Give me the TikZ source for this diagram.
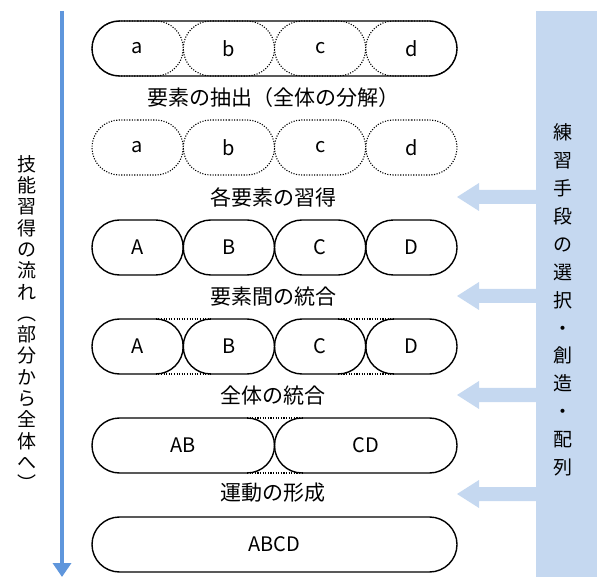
\documentclass[tikz,border=0pt]{standalone}
\usepackage{fontspec}
\newfontfamily\jp{Noto Sans CJK JP}
\usepackage{tikz}
\usetikzlibrary{arrows.meta,calc,shapes.misc}
\definecolor{flowblue}{RGB}{95,150,220}
\definecolor{panelblue}{RGB}{197,216,240}
\tikzset{
  capsule/.style={rounded rectangle, draw, line width=1.4pt, minimum height=55pt, minimum width=91.25pt, inner sep=0pt, outer sep=0pt, font=\jp\fontsize{20}{20}\selectfont},
  part/.style={capsule, line width=1.1pt, dash pattern=on 1.1pt off 1.5pt},
  bridge/.style={line width=1.1pt, dash pattern=on 1.1pt off 1.5pt},
  stage/.style={font=\jp\fontsize{21}{21}\selectfont, inner sep=0pt},
  flowline/.style={draw=flowblue, line width=3.5pt, -{Triangle[width=18pt,length=14pt]}},
}

\begin{document}
\begin{tikzpicture}[x=1pt,y=-1pt]
\useasboundingbox (0,0) rectangle (600,577);
\pgfmathsetmacro{\S}{18.1}   
% 要素の抽出
\node[capsule, minimum width=365pt] (whole1) at (274.5,48.5) {};
\node[part] (a1) at (137.6,48.5) {a};
\node[part] (b1) at (228.9,48.5) {b};
\node[part] (c1) at (320.1,48.5) {c};
\node[part] (d1) at (411.4,48.5) {d};
\node[stage] (l1) at (273,98) {要素の抽出（全体の分解）};
% 各要素の習得
\node[part] (a2) at (137.6,147.5) {a};
\node[part] (b2) at (228.9,147.5) {b};
\node[part] (c2) at (320.1,147.5) {c};
\node[part] (d2) at (411.4,147.5) {d};
\node[stage] (l2) at (273,197) {各要素の習得};
% 要素間の統合
\node[capsule] (A3) at (137.6,247.5) {A};
\node[capsule] (B3) at (228.9,247.5) {B};
\node[capsule] (C3) at (320.1,247.5) {C};
\node[capsule] (D3) at (411.4,247.5) {D};
\node[stage] (l3) at (273,297) {要素間の統合};
% 全体の統合
\node[capsule] (A4) at (137.6,346.5) {A};
\node[capsule] (B4) at (228.9,346.5) {B};
\node[capsule] (C4) at (320.1,346.5) {C};
\node[capsule] (D4) at (411.4,346.5) {D};
\draw[bridge] ($(A4.north)+(\S,0)$) -- ($(B4.north)+(-\S,0)$);
\draw[bridge] ($(A4.south)+(\S,0)$) -- ($(B4.south)+(-\S,0)$);
\draw[bridge] ($(C4.north)+(\S,0)$) -- ($(D4.north)+(-\S,0)$);
\draw[bridge] ($(C4.south)+(\S,0)$) -- ($(D4.south)+(-\S,0)$);
\node[stage] (l4) at (273,396) {全体の統合};
% 運動の形成
\node[capsule, minimum width=182.5pt] (AB5) at (183.25,445.5) {AB};
\node[capsule, minimum width=182.5pt] (CD5) at (365.75,445.5) {CD};
\draw[bridge] ($(AB5.north)+(63.75,0)$) -- ($(CD5.north)+(-63.75,0)$);
\draw[bridge] ($(AB5.south)+(63.75,0)$) -- ($(CD5.south)+(-63.75,0)$);
\node[stage] (l5) at (273,493) {運動の形成};
\node[capsule, minimum width=365pt] (ABCD6) at (274.5,544.5) {ABCD};

% 技能習得の流れ
\coordinate (flowtop) at (62,11);
\coordinate (flowend) at (62,577);
\draw[flowline] (flowtop) -- (flowend);
\node[font=\jp\fontsize{19}{21.3}\selectfont, align=center, inner sep=0pt] (flowtext) at (27,323)
  {技\\能\\習\\得\\の\\流\\れ\\︵\\部\\分\\か\\ら\\全\\体\\へ\\︶};

% 練習手段
\node[fill=panelblue, minimum width=61pt, minimum height=566pt, inner sep=0pt, outer sep=0pt, anchor=north west] (panel) at (536,11) {};
\node[font=\jp\fontsize{19}{27.9}\selectfont, align=center, inner sep=0pt] (means) at (563,300)
  {練\\習\\手\\段\\の\\選\\択\\・\\創\\造\\・\\配\\列};
\coordinate (h2) at (0,197);
\coordinate (h3) at (0,296);
\coordinate (h4) at (0,395);
\coordinate (h5) at (0,494);
\fill[panelblue] (panel.west |- h2) ++(0,-7) -- ++(-57,0) -- ++(0,-7) -- ++(-22,14) -- ++(22,14) -- ++(0,-7) -- ++(57,0) -- cycle;
\fill[panelblue] (panel.west |- h3) ++(0,-7) -- ++(-57,0) -- ++(0,-7) -- ++(-22,14) -- ++(22,14) -- ++(0,-7) -- ++(57,0) -- cycle;
\fill[panelblue] (panel.west |- h4) ++(0,-7) -- ++(-57,0) -- ++(0,-7) -- ++(-22,14) -- ++(22,14) -- ++(0,-7) -- ++(57,0) -- cycle;
\fill[panelblue] (panel.west |- h5) ++(0,-7) -- ++(-57,0) -- ++(0,-7) -- ++(-22,14) -- ++(22,14) -- ++(0,-7) -- ++(57,0) -- cycle;
\end{tikzpicture}
\end{document}
